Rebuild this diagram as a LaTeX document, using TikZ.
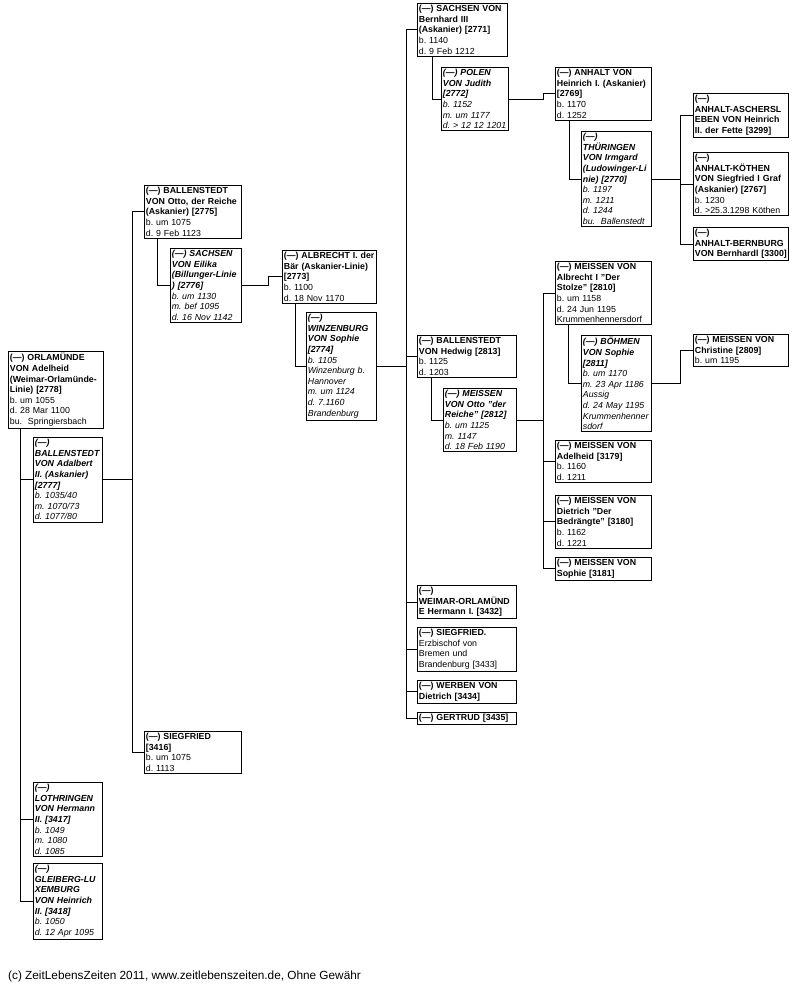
\documentclass[tikz,border=0pt]{standalone}
\usepackage{fontspec}
\setmainfont{Liberation Sans}
\usetikzlibrary{positioning}
\frenchspacing
\tikzset{
  person/.style={draw, line width=0.8pt, anchor=north west, align=left,
    inner xsep=1.5pt, inner ysep=2pt, text width=#1-3.8pt,
    font=\fontsize{8.8}{10.6}\selectfont},
  spouse/.style={person=#1, font=\fontsize{8.8}{10.6}\selectfont\itshape},
  link/.style={line width=0.8pt}
}

\begin{document}
\begin{tikzpicture}[x=1pt, y=-1pt]
  \useasboundingbox (0,0) rectangle (808,988);

  \node[person=96pt] (orla) at (8,351) {{\bfseries (---) ORLAMÜNDE\\VON Adelheid\\(Weimar-Orlamünde-\\Linie) [2778]}\\b. um 1055\\d. 28 Mar 1100\\bu.~~Springiersbach};
  \node[spouse=70pt] (adalbert) at (33,437) {{\bfseries (---)\\BALLENSTEDT\\VON Adalbert\\II. (Askanier)\\{}[2777]}\\b. 1035/40\\m. 1070/73\\d. 1077/80};
  \node[spouse=70pt] (lothringen) at (33,782) {{\bfseries (---)\\LOTHRINGEN\\VON Hermann\\II. [3417]}\\b. 1049\\m. 1080\\d. 1085};
  \node[spouse=70pt] (gleiberg) at (33,863) {{\bfseries (---)\\GLEIBERG-LU\\XEMBURG\\VON Heinrich\\II. [3418]}\\b. 1050\\d. 12 Apr 1095};

  \node[person=98pt] (otto) at (144,185) {{\bfseries (---) BALLENSTEDT\\VON Otto, der Reiche\\(Askanier) [2775]}\\b. um 1075\\d. 9 Feb 1123};
  \node[spouse=72pt] (eilika) at (170,248) {{\bfseries (---) SACHSEN\\VON Eilika\\(Billunger-Linie\\) [2776]}\\b. um 1130\\m. bef 1095\\d. 16 Nov 1142};
  \node[person=98pt] (siegfried) at (144,731) {{\bfseries (---) SIEGFRIED\\{}[3416]}\\b. um 1075\\d. 1113};

  \node[person=95pt] (albrecht) at (282,250) {{\bfseries (---) ALBRECHT I. der\\Bär (Askanier-Linie)\\{}[2773]}\\b. 1100\\d. 18 Nov 1170};
  \node[spouse=71pt] (winzenburg) at (306,312) {{\bfseries (---)\\WINZENBURG\\VON Sophie\\{}[2774]}\\b. 1105\\Winzenburg b.\\Hannover\\m. um 1124\\d. 7.1160\\Brandenburg};

  \node[person=91pt] (bernhard) at (417,3) {{\bfseries (---) SACHSEN VON\\Bernhard III\\(Askanier) [2771]}\\b. 1140\\d. 9 Feb 1212};
  \node[spouse=68pt] (polen) at (441,67) {{\bfseries (---) POLEN\\VON Judith\\{}[2772]}\\b. 1152\\m. um 1177\\\mbox{d. > 12 12 1201}};
  \node[person=100pt] (hedwig) at (417,335) {{\bfseries (---) BALLENSTEDT\\VON Hedwig [2813]}\\b. 1125\\d. 1203};
  \node[spouse=74pt] (meissenotto) at (443,388) {{\bfseries (---) MEISSEN\\VON Otto "der\\Reiche" [2812]}\\b. um 1125\\m. 1147\\d. 18 Feb 1190};
  \node[person=100pt] (weimar) at (417,585) {{\bfseries (---)\\WEIMAR-ORLAMÜND\\E Hermann I. [3432]}};
  \node[person=100pt] (erzbischof) at (417,627) {{\bfseries (---) SIEGFRIED.}\\Erzbischof von\\Bremen und\\Brandenburg [3433]};
  \node[person=100pt] (werben) at (417,680) {{\bfseries (---) WERBEN VON\\Dietrich [3434]}};
  \node[person=100pt] (gertrud) at (417,712) {{\bfseries (---) GERTRUD [3435]}};

  \node[person=97pt] (anhalt) at (555,67) {{\bfseries (---) ANHALT VON\\Heinrich I. (Askanier)\\{}[2769]}\\b. 1170\\d. 1252};
  \node[spouse=71pt] (thueringen) at (581,131) {{\bfseries (---)\\THÜRINGEN\\VON Irmgard\\(Ludowinger-Li\\nie) [2770]}\\b. 1197\\m. 1211\\d. 1244\\bu.~~Ballenstedt};
  \node[person=97pt] (meissenalbrecht) at (555,261) {{\bfseries (---) MEISSEN VON\\Albrecht I "Der\\Stolze" [2810]}\\b. um 1158\\d. 24 Jun 1195\\Krummenhennersdorf};
  \node[spouse=71pt] (boehmen) at (581,335) {{\bfseries (---) BÖHMEN\\VON Sophie\\{}[2811]}\\b. um 1170\\m. 23 Apr 1186\\Aussig\\d. 24 May 1195\\Krummenhenner\\sdorf};
  \node[person=97pt] (adelheid) at (555,440) {{\bfseries (---) MEISSEN VON\\Adelheid [3179]}\\b. 1160\\d. 1211};
  \node[person=97pt] (dietrich) at (555,495) {{\bfseries (---) MEISSEN VON\\Dietrich "Der\\Bedrängte" [3180]}\\b. 1162\\d. 1221};
  \node[person=97pt] (sophie) at (555,557) {{\bfseries (---) MEISSEN VON\\Sophie [3181]}};

  \node[person=96pt] (aschersleben) at (693,93) {{\bfseries (---)\\ANHALT-ASCHERSL\\EBEN VON Heinrich\\II. der Fette [3299]}};
  \node[person=96pt] (koethen) at (693,152) {{\bfseries (---)\\ANHALT-KÖTHEN\\VON Siegfried I Graf\\(Askanier) [2767]}\\b. 1230\\d. >25.3.1298 Köthen};
  \node[person=96pt] (bernburg) at (693,227) {{\bfseries (---)\\ANHALT-BERNBURG\\VON Bernhardl [3300]}};
  \node[person=96pt] (christine) at (693,334) {{\bfseries (---) MEISSEN VON\\Christine [2809]}\\b. um 1195};

  \node[anchor=base west, inner sep=0pt, font=\fontsize{11.8}{14}\selectfont] (footer) at (8,979) {(c) ZeitLebensZeiten 2011, www.zeitlebenszeiten.de, Ohne Gewähr};

  \draw[link] ([xshift=12pt]orla.south west) |- (adalbert.west);
  \draw[link] ([xshift=12pt]orla.south west) |- (lothringen.west);
  \draw[link] ([xshift=12pt]orla.south west) |- (gleiberg.west);
  \draw[link] (adalbert.east) -- ++(29,0) |- (otto.west);
  \draw[link] (adalbert.east) -- ++(29,0) |- (siegfried.west);
  \draw[link] ([xshift=13pt]otto.south west) |- (eilika.west);
  \draw[link] (eilika.east) -- ++(26,0) |- (albrecht.west);
  \draw[link] ([xshift=13pt]albrecht.south west) |- (winzenburg.west);
  \foreach \kid in {bernhard, hedwig, weimar, erzbischof, werben, gertrud}
    \draw[link] (winzenburg.east) -- ++(29,0) |- (\kid.west);
  \draw[link] ([xshift=15pt]bernhard.south west) |- (polen.west);
  \draw[link] (polen.east) -- ++(34,0) |- (anhalt.west);
  \draw[link] ([xshift=14pt]anhalt.south west) |- (thueringen.west);
  \foreach \kid in {aschersleben, koethen, bernburg}
    \draw[link] (thueringen.east) -- ++(28,0) |- (\kid.west);
  \draw[link] ([xshift=14pt]hedwig.south west) |- (meissenotto.west);
  \foreach \kid in {meissenalbrecht, adelheid, dietrich, sophie}
    \draw[link] (meissenotto.east) -- ++(26,0) |- (\kid.west);
  \draw[link] ([xshift=13pt]meissenalbrecht.south west) |- (boehmen.west);
  \draw[link] (boehmen.east) -- ++(28,0) |- (christine.west);
\end{tikzpicture}
\end{document}
